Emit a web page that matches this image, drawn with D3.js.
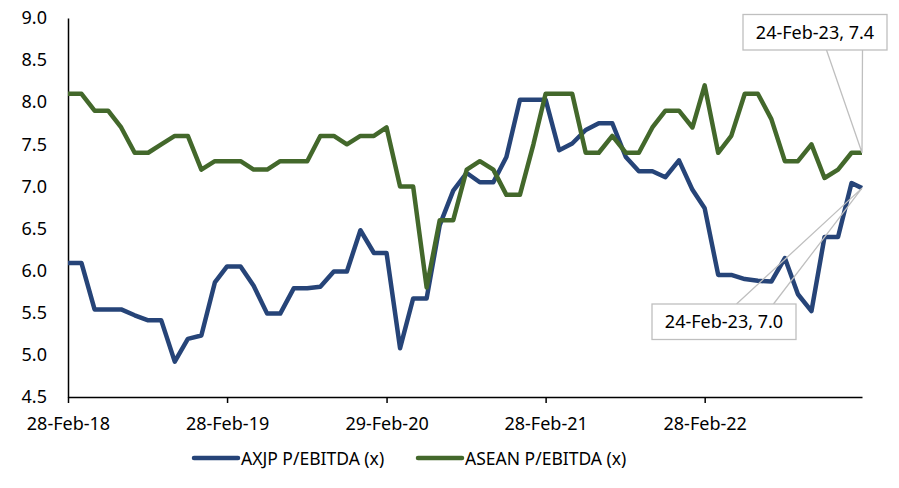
<!DOCTYPE html>
<html>
<head>
<meta charset="utf-8">
<script src="https://cdn.jsdelivr.net/npm/d3@7"></script>
<style>
  body { margin: 0; background: #fff; }
  svg text { font-family: "Noto Sans", "Open Sans", sans-serif; fill: #000; }
</style>
</head>
<body>
<svg id="chart" width="899" height="488"></svg>
<script>
// month-end dates
var dates = [
  "2018-02-28","2018-03-31","2018-04-30","2018-05-31","2018-06-30","2018-07-31","2018-08-31","2018-09-30","2018-10-31","2018-11-30","2018-12-31",
  "2019-01-31","2019-02-28","2019-03-31","2019-04-30","2019-05-31","2019-06-30","2019-07-31","2019-08-31","2019-09-30","2019-10-31","2019-11-30","2019-12-31",
  "2020-01-31","2020-02-29","2020-03-31","2020-04-30","2020-05-31","2020-06-30","2020-07-31","2020-08-31","2020-09-30","2020-10-31","2020-11-30","2020-12-31",
  "2021-01-31","2021-02-28","2021-03-31","2021-04-30","2021-05-31","2021-06-30","2021-07-31","2021-08-31","2021-09-30","2021-10-31","2021-11-30","2021-12-31",
  "2022-01-31","2022-02-28","2022-03-31","2022-04-30","2022-05-31","2022-06-30","2022-07-31","2022-08-31","2022-09-30","2022-10-31","2022-11-30","2022-12-31",
  "2023-01-31","2023-02-24"
];
var axjp = [
  6.09, 6.09, 5.54, 5.54, 5.54, 5.47, 5.41, 5.41, 4.92, 5.19, 5.23,
  5.86, 6.05, 6.05, 5.82, 5.49, 5.49, 5.79, 5.79, 5.81, 5.99, 5.99, 6.48,
  6.21, 6.21, 5.08, 5.67, 5.67, 6.54, 6.95, 7.16, 7.05, 7.05, 7.35, 8.03,
  8.03, 8.03, 7.43, 7.51, 7.67, 7.75, 7.75, 7.35, 7.18, 7.18, 7.11, 7.31,
  6.96, 6.74, 5.95, 5.95, 5.90, 5.88, 5.87, 6.15, 5.72, 5.52, 6.40, 6.40,
  7.04, 6.98
];
var asean = [
  8.1, 8.1, 7.9, 7.9, 7.7, 7.4, 7.4, 7.5, 7.6, 7.6, 7.2,
  7.3, 7.3, 7.3, 7.2, 7.2, 7.3, 7.3, 7.3, 7.6, 7.6, 7.5, 7.6,
  7.6, 7.7, 7.0, 7.0, 5.8, 6.6, 6.6, 7.2, 7.3, 7.2, 6.9, 6.9,
  7.5, 8.1, 8.1, 8.1, 7.4, 7.4, 7.6, 7.4, 7.4, 7.7, 7.9, 7.9,
  7.7, 8.2, 7.4, 7.6, 8.1, 8.1, 7.8, 7.3, 7.3, 7.5, 7.1, 7.2,
  7.4, 7.4
];
var xTicks = ["2018-02-28","2019-02-28","2020-02-29","2021-02-28","2022-02-28"];
var yTicks = [4.5, 5.0, 5.5, 6.0, 6.5, 7.0, 7.5, 8.0, 8.5, 9.0];
var seriesNames = ["AXJP P/EBITDA (x)", "ASEAN P/EBITDA (x)"];
var colors = ["#264478", "#43682b"];
var calloutText = ["24-Feb-23, 7.0", "24-Feb-23, 7.4"];

var parse = d3.timeParse("%Y-%m-%d");
var fmt = d3.timeFormat("%d-%b-%y");
var svg = d3.select("#chart");

var x = d3.scaleTime()
  .domain([parse(dates[0]), parse(dates[dates.length - 1])])
  .range([68, 862]);
var y = d3.scaleLinear().domain([4.5, 9.0]).range([397, 18]);

// y axis
var yAxis = d3.axisLeft(y).tickValues(yTicks).tickFormat(d3.format(".1f")).tickSize(0).tickPadding(21);
var gy = svg.append("g").attr("transform", "translate(68,0)").call(yAxis);
gy.select(".domain").attr("stroke", "#000").attr("stroke-width", 1.5);
gy.selectAll("text").style("font-size", "18px").attr("fill", "#000");

// x axis
var xAxis = d3.axisBottom(x).tickValues(xTicks.map(parse)).tickFormat(fmt).tickSize(6).tickSizeOuter(0).tickPadding(14);
var gx = svg.append("g").attr("transform", "translate(0,397)").call(xAxis);
gx.select(".domain").attr("stroke", "#000").attr("stroke-width", 1.5);
gx.selectAll(".tick line").attr("stroke", "#000").attr("stroke-width", 1.5);
gx.selectAll("text").style("font-size", "18px").attr("fill", "#000");

// lines
var line = d3.line()
  .x(function(d, i) { return x(parse(dates[i])); })
  .y(function(d) { return y(d); });

[axjp, asean].forEach(function(s, k) {
  svg.append("path")
    .datum(s)
    .attr("fill", "none")
    .attr("stroke", colors[k])
    .attr("stroke-width", 4.5)
    .attr("stroke-linejoin", "round")
    .attr("d", line);
});

// callouts
var last = dates.length - 1;
var px = x(parse(dates[last]));
function callout(val, bx, by, bw, bh, ax1, ax2, attachY, label) {
  var py = y(val);
  var g = svg.append("g");
  g.append("path")
    .attr("d", "M" + ax1 + "," + attachY + "L" + px + "," + py + "L" + ax2 + "," + attachY)
    .attr("fill", "none").attr("stroke", "#bfbfbf").attr("stroke-width", 1.3);
  g.append("rect")
    .attr("x", bx).attr("y", by).attr("width", bw).attr("height", bh)
    .attr("fill", "#fff").attr("stroke", "#bfbfbf").attr("stroke-width", 1.3);
  g.append("text")
    .attr("x", bx + bw / 2).attr("y", by + bh / 2 + 6.5)
    .attr("text-anchor", "middle")
    .style("font-size", "18px")
    .text(label);
}
callout(asean[last], 743, 14.5, 144, 35.5, 826.5, 862.5, 50, calloutText[1]);
callout(axjp[last], 652, 304, 144, 35.5, 736.5, 773.5, 304, calloutText[0]);

// legend
var legX = [194, 418];
seriesNames.forEach(function(name, k) {
  svg.append("line")
    .attr("x1", legX[k]).attr("x2", legX[k] + 44)
    .attr("y1", 458).attr("y2", 458)
    .attr("stroke", colors[k]).attr("stroke-width", 4.5).attr("stroke-linecap", "round");
  svg.append("text")
    .attr("x", legX[k] + 47).attr("y", 464.5)
    .style("font-size", "17.5px")
    .text(name);
});
</script>
</body>
</html>
